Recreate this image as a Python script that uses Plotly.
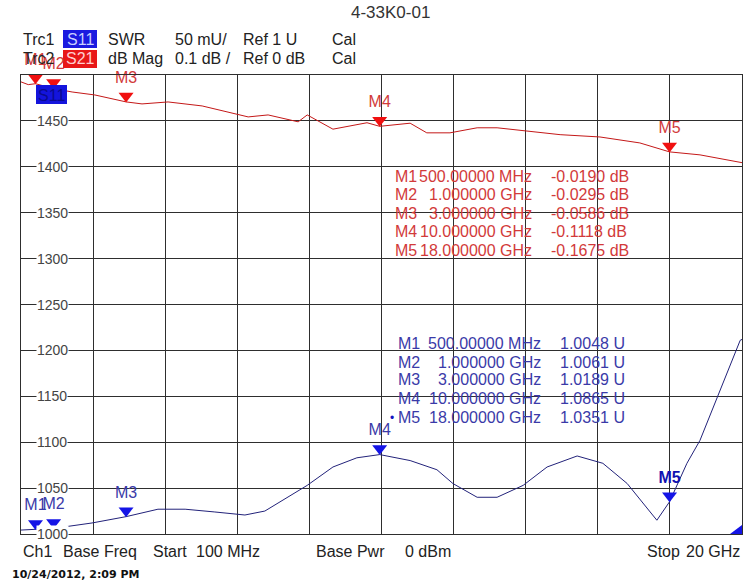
import plotly.graph_objects as go

# ---------------- data ----------------
# S11 (SWR, units U), plotted on the left axis (displayed as mU)
s11_freq_ghz = [0.1, 0.5, 1.0, 2.06, 3.0, 3.88, 4.63, 5.45, 6.28, 6.83, 7.33, 8.0,
                8.71, 9.37, 10.0, 10.84, 11.58, 12.02, 12.69, 13.24, 13.96, 14.62,
                15.45, 16.16, 16.83, 17.27, 17.65, 18.0, 18.48, 18.84, 19.2, 19.58,
                19.95, 20.0]
s11_swr = [1.0043, 1.0048, 1.0061, 1.012, 1.0189, 1.027, 1.027, 1.024, 1.0207, 1.025,
           1.037, 1.053, 1.073, 1.083, 1.0865, 1.080, 1.070, 1.055, 1.040, 1.040,
           1.053, 1.073, 1.085, 1.077, 1.055, 1.034, 1.015, 1.0351, 1.077, 1.102,
           1.138, 1.175, 1.211, 1.212]

# S21 (dB Mag)
s21_freq_ghz = [0.1, 0.3, 0.5, 1.0, 1.51, 2.14, 3.0, 3.44, 4.16, 5.1, 6.37, 6.92,
                7.75, 8.0, 8.71, 9.65, 10.0, 10.84, 11.3, 11.94, 12.69, 13.24, 14.98,
                16.08, 17.18, 18.0, 18.84, 20.0]
s21_db = [-0.015, -0.021, -0.019, -0.0295, -0.037, -0.0435, -0.0586, -0.063, -0.0587,
          -0.0674, -0.0913, -0.087, -0.102, -0.087, -0.118, -0.104, -0.1118, -0.105,
          -0.126, -0.126, -0.115, -0.115, -0.130, -0.135, -0.148, -0.1675, -0.174,
          -0.191]

# markers
marker_names = ["M1", "M2", "M3", "M4", "M5"]
marker_freq_ghz = [0.5, 1.0, 3.0, 10.0, 18.0]
marker_freq_text = ["500.00000 MHz", "1.000000 GHz", "3.000000 GHz",
                    "10.000000 GHz", "18.000000 GHz"]
s11_marker_swr = [1.0048, 1.0061, 1.0189, 1.0865, 1.0351]
s21_marker_db = [-0.0190, -0.0295, -0.0586, -0.1118, -0.1675]

# axis ticks
y_tick_values = [1.00, 1.05, 1.10, 1.15, 1.20, 1.25, 1.30, 1.35, 1.40, 1.45]
y_tick_labels = ["1000", "1050", "1100", "1150", "1200", "1250", "1300", "1350",
                 "1400", "1450"]

# ---------------- geometry helpers ----------------
W, H = 745, 585
L, R, T, B = 21, 742, 75, 534
SWR_RANGE = [1.0, 1.5]     # 50 mU/div, ref 1 U at bottom
DB_RANGE = [-1.0, 0.0]     # 0.1 dB/div, ref 0 dB at top


def px(x):
    return (x - L) / (R - L)


def py(y):
    return (B - y) / (B - T)


FONT = "Liberation Sans, Arial, sans-serif"
RED_LINE = "#c41818"
BLUE_LINE = "#22227a"
RED_MK = "#f01010"
BLUE_MK = "#1414e6"
RED_TXT = "#d23a3a"
BLUE_TXT = "#3a3aa8"
GRID = "#2e2e2e"

fig = go.Figure()

# traces
fig.add_trace(go.Scatter(x=s21_freq_ghz, y=s21_db, mode="lines", yaxis="y2",
                         line=dict(color=RED_LINE, width=1), hoverinfo="skip"))
fig.add_trace(go.Scatter(x=s11_freq_ghz, y=s11_swr, mode="lines",
                         line=dict(color=BLUE_LINE, width=1), hoverinfo="skip"))

# marker triangles: raise centre so the tip sits on the value
swr_per_px = (SWR_RANGE[1] - SWR_RANGE[0]) / (B - T)
db_per_px = (DB_RANGE[1] - DB_RANGE[0]) / (B - T)
tip = 6
s11_mk_y = [v + tip * swr_per_px for v in s11_marker_swr]
s21_mk_y = [v + tip * db_per_px for v in s21_marker_db]

s11_labels = [n if n != "M5" else "<b>M5</b>" for n in marker_names]
fig.add_trace(go.Scatter(x=marker_freq_ghz, y=s21_mk_y, yaxis="y2", mode="markers+text",
                         marker=dict(symbol="triangle-down", size=13, color=RED_MK),
                         text=marker_names, textposition="top center",
                         textfont=dict(family=FONT, size=16, color=RED_TXT),
                         cliponaxis=False, hoverinfo="skip"))
fig.add_trace(go.Scatter(x=marker_freq_ghz, y=s11_mk_y, mode="markers+text",
                         marker=dict(symbol="triangle-down", size=13, color=BLUE_MK),
                         text=s11_labels, textposition="top center",
                         textfont=dict(family=FONT, size=16,
                                       color=[BLUE_TXT] * 4 + ["#1010b0"]),
                         cliponaxis=False, hoverinfo="skip"))

ann = []
shapes = []


def text(x, y, s, size=16, color="#222222", anchor="left", family=FONT, **kw):
    ann.append(dict(x=px(x), y=py(y), xref="paper", yref="paper", text=s,
                    showarrow=False, xanchor=anchor, yanchor="middle",
                    font=dict(family=family, size=size, color=color), **kw))


# title and header
text(390, 13, "4-33K0-01", size=17, color="#333333", anchor="center")
shapes.append(dict(type="rect", xref="paper", yref="paper", x0=px(63), x1=px(97),
                   y0=py(30), y1=py(48), fillcolor="#1a1ae0", line=dict(width=0),
                   layer="below"))
shapes.append(dict(type="rect", xref="paper", yref="paper", x0=px(63), x1=px(97),
                   y0=py(50), y1=py(68), fillcolor="#e81818", line=dict(width=0),
                   layer="below"))
row1 = [(21, "Trc1"), (106, "SWR"), (173, "50 mU/"), (241, "Ref 1 U"), (330, "Cal")]
row2 = [(21, "Trc2"), (106, "dB Mag"), (173, "0.1 dB /"), (241, "Ref 0 dB"), (330, "Cal")]
for x, s in row1:
    text(x, 39, s)
for x, s in row2:
    text(x, 59, s)
text(80, 39, "S11", color="#c8d0ff", anchor="center")
text(80, 59, "S21", color="#ffd0d0", anchor="center")

# S11 trace reference box and ref-position triangle
shapes.append(dict(type="rect", xref="paper", yref="paper", x0=px(36), x1=px(67),
                   y0=py(85), y1=py(104), fillcolor="#1414dc", line=dict(width=0)))
text(51.5, 95, "S11", color="#0a0a90", anchor="center")
shapes.append(dict(type="path", xref="paper", yref="paper",
                   path=f"M {px(742)} {py(534)} L {px(742)} {py(525)} L {px(730)} {py(534)} Z",
                   fillcolor="#1414e6", line=dict(width=0)))

# y tick labels drawn on the grid lines
for v, lab in zip(y_tick_values, y_tick_labels):
    ann.append(dict(x=px(52), y=v, xref="paper", yref="y", text=lab, showarrow=False,
                    xanchor="center", yanchor="middle", bgcolor="white", borderpad=0,
                    font=dict(family=FONT, size=14, color="#444444")))

# marker tables
red_rows_y = [176, 194, 213, 231, 250]
blue_rows_y = [343, 362, 380, 399, 418]
for i, n in enumerate(marker_names):
    text(393, red_rows_y[i], n, color=RED_TXT)
    text(534, red_rows_y[i], marker_freq_text[i], color=RED_TXT, anchor="right")
    text(549, red_rows_y[i], f"{s21_marker_db[i]:.4f} dB", color=RED_TXT)
    text(396, blue_rows_y[i], n, color=BLUE_TXT)
    text(543, blue_rows_y[i], marker_freq_text[i], color=BLUE_TXT, anchor="right")
    text(558, blue_rows_y[i], f"{s11_marker_swr[i]:.4f} U", color=BLUE_TXT)
text(392, 418, "•", color="#1414c0", anchor="center", size=12)

# bottom line
text(21, 551, "Ch1")
text(61, 551, "Base Freq")
text(151, 551, "Start")
text(194, 551, "100 MHz")
text(314, 551, "Base Pwr")
text(403, 551, "0 dBm")
text(645, 551, "Stop")
text(742, 551, "20 GHz", anchor="right")
text(10, 574, "<b>10/24/2012, 2:09 PM</b>", size=11, color="#111111",
     family="DejaVu Sans, Verdana, sans-serif")

fig.update_layout(
    width=W, height=H,
    margin=dict(l=L, r=W - R, t=T, b=H - B),
    paper_bgcolor="white", plot_bgcolor="white",
    showlegend=False,
    xaxis=dict(range=[0.1, 20.0], tick0=0.1, dtick=1.99, showgrid=True,
               gridcolor=GRID, gridwidth=1, zeroline=False, showticklabels=False,
               ticks="", showline=True, linecolor=GRID, linewidth=1, mirror=True),
    yaxis=dict(range=SWR_RANGE, tick0=1.0, dtick=0.05, showgrid=True,
               gridcolor=GRID, gridwidth=1, zeroline=False, showticklabels=False,
               ticks="", showline=True, linecolor=GRID, linewidth=1, mirror=True),
    yaxis2=dict(range=DB_RANGE, overlaying="y", visible=False),
    annotations=ann,
    shapes=shapes,
)

fig.write_html("out.html")
